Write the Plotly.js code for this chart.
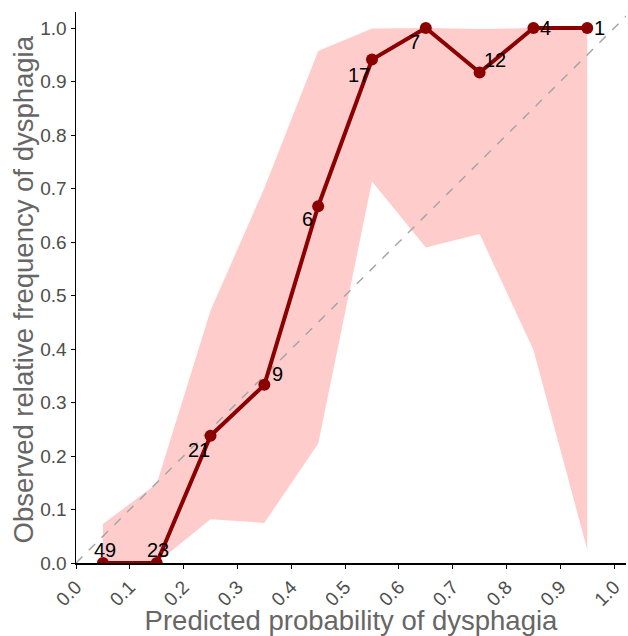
<!DOCTYPE html>
<html>
<head>
<meta charset="utf-8">
<script src="https://cdn.plot.ly/plotly-3.0.1.min.js"></script>
<style>html,body{margin:0;padding:0;background:#fff;}#chart{width:628px;height:636px;}</style>
</head>
<body>
<div id="chart"></div>
<script>
const predicted = [0.05, 0.15, 0.25, 0.35, 0.45, 0.55, 0.65, 0.75, 0.85, 0.95];
const observed  = [0.0, 0.0, 0.238, 0.333, 0.667, 0.941, 1.0, 0.917, 1.0, 1.0];
const ciLower   = [0.0, 0.0, 0.082, 0.075, 0.223, 0.713, 0.590, 0.615, 0.398, 0.025];
const ciUpper   = [0.073, 0.148, 0.472, 0.701, 0.957, 0.999, 1.0, 0.998, 1.0, 1.0];
const counts    = ["49", "23", "21", "9", "6", "17", "7", "12", "4", "1"];
// label offsets in pixels (styling only)
const labelDx   = [2, 1, -12, 13, -11, -13, -11, 15, 12, 12];
const labelDy   = [13, 13, -14, 11, -13, -15, -14, 12, 0, 0];

const FONT = 'Liberation Sans, Arial, sans-serif';

const traces = [
  {x: predicted, y: ciLower, type: 'scatter', mode: 'lines', line: {width: 0, color: 'rgba(0,0,0,0)'},
   hoverinfo: 'skip', showlegend: false},
  {x: predicted, y: ciUpper, type: 'scatter', mode: 'lines', line: {width: 0, color: 'rgba(0,0,0,0)'},
   fill: 'tonexty', fillcolor: 'rgba(255,0,0,0.2)', hoverinfo: 'skip', showlegend: false},
  {x: [0, 1.1], y: [0, 1.1], type: 'scatter', mode: 'lines',
   line: {color: '#a6a6a6', width: 1.5, dash: 'dash'}, showlegend: false, hoverinfo: 'skip'},
  {x: predicted, y: observed, type: 'scatter', mode: 'lines+markers',
   line: {color: '#8B0000', width: 4}, marker: {color: '#8B0000', size: 12}, showlegend: false}
];

const annotations = counts.map((c, i) => ({
  x: predicted[i], y: observed[i], xref: 'x', yref: 'y', text: c, showarrow: false,
  xanchor: 'center', yanchor: 'middle', xshift: labelDx[i], yshift: labelDy[i],
  font: {family: FONT, size: 20, color: '#000'}
}));
annotations.push({
  xref: 'paper', yref: 'paper', x: 0, y: 0.5, xanchor: 'center', yanchor: 'middle',
  xshift: -53, yshift: -2, textangle: -90, showarrow: false,
  text: 'Observed relative frequency of dysphagia',
  font: {family: FONT, size: 27.5, color: '#666'}
});

const tickVals = [0, 0.1, 0.2, 0.3, 0.4, 0.5, 0.6, 0.7, 0.8, 0.9, 1.0];
const tickText = ["0.0", "0.1", "0.2", "0.3", "0.4", "0.5", "0.6", "0.7", "0.8", "0.9", "1.0"];

const layout = {
  width: 628, height: 636,
  margin: {l: 76, r: 2, t: 12, b: 73},
  paper_bgcolor: '#fff', plot_bgcolor: '#fff',
  font: {family: FONT},
  annotations: annotations,
  xaxis: {
    range: [0, 1.022], tickvals: tickVals, ticktext: tickText, tickangle: -45,
    showgrid: false, zeroline: false, showline: true, linecolor: '#000', linewidth: 1.5,
    ticks: 'outside', ticklen: 4, tickcolor: '#000',
    tickfont: {family: FONT, size: 19, color: '#4d4d4d'},
    title: {text: 'Predicted probability of dysphagia', font: {size: 27.5, color: '#666'}, standoff: 0}
  },
  yaxis: {
    range: [0, 1.03], tickvals: tickVals, ticktext: tickText,
    showgrid: false, zeroline: false, showline: true, linecolor: '#000', linewidth: 1.5,
    ticks: 'outside', ticklen: 4, tickcolor: '#000',
    tickfont: {family: FONT, size: 19, color: '#4d4d4d'}
  }
};

Plotly.newPlot('chart', traces, layout, {displayModeBar: false, staticPlot: true});
</script>
</body>
</html>
